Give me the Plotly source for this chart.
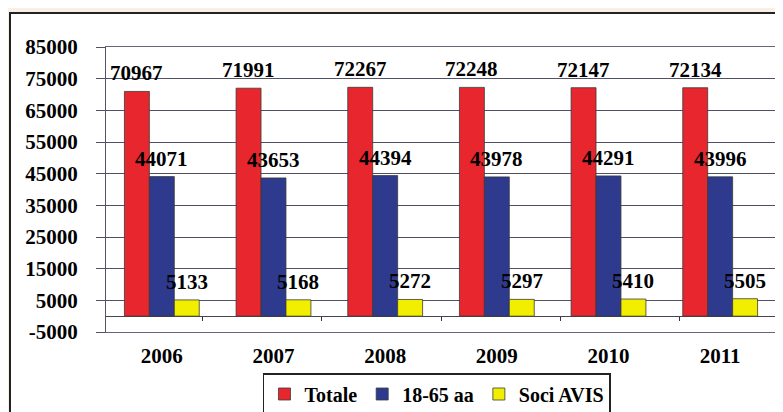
import plotly.graph_objects as go

years = ["2006", "2007", "2008", "2009", "2010", "2011"]
totale = [70967, 71991, 72267, 72248, 72147, 72134]
eta_18_65 = [44071, 43653, 44394, 43978, 44291, 43996]
soci_avis = [5133, 5168, 5272, 5297, 5410, 5505]
series_names = ["Totale", "18-65 aa", "Soci AVIS"]
series_colors = ["#e8262e", "#2e3a8e", "#f2ee00"]
y_ticks = list(range(-5000, 85001, 10000))

FONT = "Liberation Serif, Times New Roman, serif"
BODY = 8  # default page margin of the html body
W, H = 783 - BODY, 412 - BODY
ML, MT = 106 - BODY, 47 - BODY
MR = W - (776 - BODY)
MB = H - (332 - BODY)
pw, ph = W - ML - MR, H - MT - MB
BARGAP = 0.33

all_series = [totale, eta_18_65, soci_avis]
n_series = len(all_series)
bar_w = (1 - BARGAP) / n_series

fig = go.Figure()
for name, vals, col in zip(series_names, all_series, series_colors):
    fig.add_trace(go.Bar(
        x=years, y=vals, name=name,
        marker=dict(color=col, line=dict(color="#3a3a3a", width=0.8)),
        hoverinfo="x+y+name",
    ))

# value labels above each bar, positioned in data coordinates
annotations = []
for si, vals in enumerate(all_series):
    off = (si - (n_series - 1) / 2) * bar_w
    for ci, v in enumerate(vals):
        annotations.append(dict(
            x=ci + off, y=v, xref="x", yref="y", text=str(v), showarrow=False,
            yanchor="bottom", xanchor="center", yshift=4,
            font=dict(family=FONT, size=21, color="black", weight="bold"),
        ))

# dummy trace for the category axis that sits on y=0
fig.add_trace(go.Scatter(x=years, y=[None] * len(years), xaxis="x2",
                         showlegend=False, hoverinfo="skip", mode="markers"))

ymin, ymax = -5000, 85000
zero_pos = (0 - ymin) / (ymax - ymin)

fig.update_layout(
    width=W, height=H,
    margin=dict(l=ML, r=MR, t=MT, b=MB, pad=0, autoexpand=False),
    paper_bgcolor="#f9efe4",
    plot_bgcolor="#c9c9e5",
    barmode="group", bargap=BARGAP, bargroupgap=0,
    showlegend=True,
    legend=dict(orientation="h", xref="paper", x=0.494, xanchor="center",
                yref="container", y=(H - (373 - BODY)) / H, yanchor="top",
                bgcolor="white", bordercolor="#222", borderwidth=1.5,
                font=dict(family=FONT, size=20, color="black", weight="bold"),
                itemwidth=30, tracegroupgap=0),
    annotations=annotations,
    xaxis=dict(type="category", showgrid=False, ticks="", showline=True, mirror=True,
               linecolor="#666677", linewidth=1, automargin=False,
               tickfont=dict(family=FONT, size=21, color="black", weight="bold"),
               ticklabelstandoff=5),
    xaxis2=dict(type="category", overlaying="x", anchor="free", position=zero_pos,
                side="bottom", showgrid=False, showline=False, showticklabels=False,
                ticks="outside", ticklen=4, tickcolor="#333", tickson="boundaries",
                zeroline=False, automargin=False),
    yaxis=dict(range=[ymin, ymax], tickvals=y_ticks, ticktext=[str(v) for v in y_ticks],
               showgrid=True, gridcolor="#505066", gridwidth=1,
               ticks="outside", ticklen=9, tickcolor="#505066",
               showline=True, mirror=True, linecolor="#555566", linewidth=1,
               zeroline=True, zerolinecolor="#444455", zerolinewidth=1,
               tickfont=dict(family=FONT, size=21, color="black", weight="bold"),
               ticklabelstandoff=14, automargin=False),
    shapes=[dict(type="rect", xref="paper", yref="paper", layer="below",
                 x0=(10 - BODY - ML) / pw, x1=(W + 20 - ML) / pw,
                 y0=(MT + ph - (H + 20)) / ph, y1=(MT + ph - (13 - BODY)) / ph,
                 fillcolor="white", line=dict(color="#222", width=2))],
)

fig.write_html("out.html")
